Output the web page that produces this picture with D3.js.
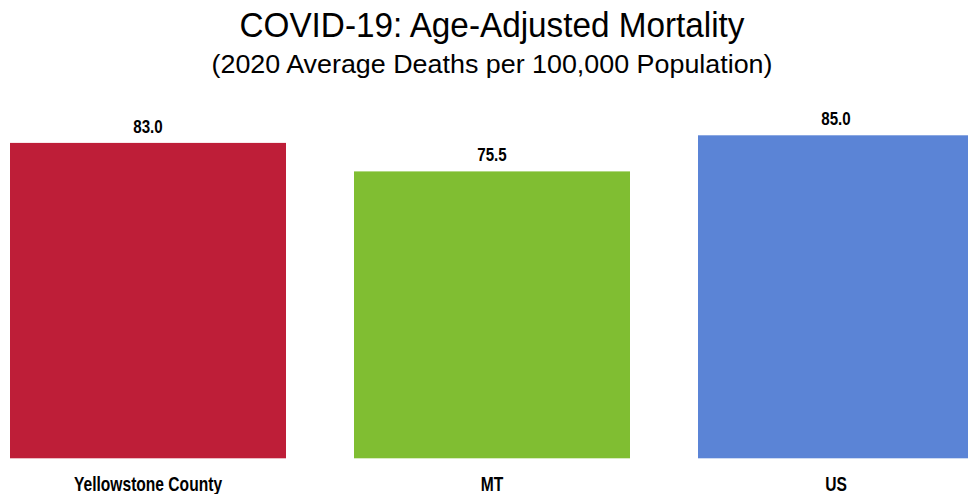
<!DOCTYPE html>
<html>
<head>
<meta charset="utf-8">
<script src="https://cdn.jsdelivr.net/npm/d3@7"></script>
<style>
  body { margin: 0; background: #fff; }
  svg text { font-family: "Liberation Sans", Arial, sans-serif; fill: #000; }
</style>
</head>
<body>
<div id="chart"></div>
<script>
// Chart data
const categories = ["Yellowstone County", "MT", "US"];
const values = [83.0, 75.5, 85.0];
const colors = ["#BE1E38", "#80BE32", "#5B84D6"];
const title = "COVID-19: Age-Adjusted Mortality";
const subtitle = "(2020 Average Deaths per 100,000 Population)";

const width = 968, height = 494;
const narrow = 0.78; // condensed look of the original labels

const svg = d3.select("#chart")
              .append("svg")
              .attr("width", width)
              .attr("height", height);

// Scales
const x = d3.scaleBand()
            .domain(categories)
            .range([10, 974])
            .paddingInner(68 / 344)
            .paddingOuter(0);

const y = d3.scaleLinear()
            .domain([0, 100])
            .range([458.3, 78.3]);

// Title
svg.append("text")
   .attr("x", 492)
   .attr("y", 37)
   .attr("text-anchor", "middle")
   .attr("textLength", 505)
   .attr("lengthAdjust", "spacingAndGlyphs")
   .style("font-size", "35px")
   .text(title);

svg.append("text")
   .attr("x", 492)
   .attr("y", 73)
   .attr("text-anchor", "middle")
   .attr("textLength", 561)
   .attr("lengthAdjust", "spacingAndGlyphs")
   .style("font-size", "26px")
   .text(subtitle);

// Bars
svg.append("g")
   .selectAll("rect")
   .data(values)
   .join("rect")
   .attr("x", (d, i) => x(categories[i]))
   .attr("y", d => y(d))
   .attr("width", x.bandwidth())
   .attr("height", d => y(0) - y(d))
   .attr("fill", (d, i) => colors[i]);

// Value labels
svg.append("g")
   .selectAll("text")
   .data(values)
   .join("text")
   .attr("transform", (d, i) =>
       `translate(${x(categories[i]) + x.bandwidth() / 2}, ${y(d) - 10.4}) scale(0.84, 1)`)
   .attr("text-anchor", "middle")
   .style("font-size", "18px")
   .style("font-weight", "bold")
   .text(d => d.toFixed(1));

// Category labels
svg.append("g")
   .selectAll("text")
   .data(categories)
   .join("text")
   .attr("transform", d =>
       `translate(${x(d) + x.bandwidth() / 2}, ${y(0) + 32.7}) scale(${narrow}, 1)`)
   .attr("text-anchor", "middle")
   .style("font-size", "20px")
   .style("font-weight", "bold")
   .text(d => d);
</script>
</body>
</html>
